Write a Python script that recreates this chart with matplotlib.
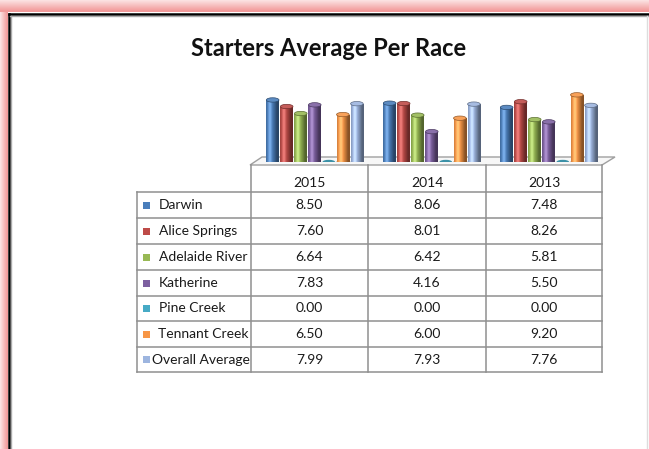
import numpy as np
import matplotlib
matplotlib.use("Agg")
import matplotlib.pyplot as plt
from matplotlib.patches import Ellipse, Polygon, Rectangle
from matplotlib.colors import to_rgb

years = ["2015", "2014", "2013"]
series = ["Darwin", "Alice Springs", "Adelaide River", "Katherine",
          "Pine Creek", "Tennant Creek", "Overall Average"]
darwin = [8.50, 8.06, 7.48]
alice_springs = [7.60, 8.01, 8.26]
adelaide_river = [6.64, 6.42, 5.81]
katherine = [7.83, 4.16, 5.50]
pine_creek = [0.00, 0.00, 0.00]
tennant_creek = [6.50, 6.00, 9.20]
overall_average = [7.99, 7.93, 7.76]
values = [darwin, alice_springs, adelaide_river, katherine,
          pine_creek, tennant_creek, overall_average]
colors = ["#4A7EBB", "#BE4B48", "#98B954", "#7D60A0",
          "#46AAC5", "#F79646", "#9DB5DF"]

FONT = ["Lato", "DejaVu Sans"]
W, H = 649, 449
fig = plt.figure(figsize=(W / 100, H / 100), dpi=100)
fig.patch.set_facecolor("white")

ov = fig.add_axes([0, 0, 1, 1], zorder=0)
ov.set_xlim(0, W)
ov.set_ylim(H, 0)
ov.axis("off")

# pink glow frame
for i in range(12):
    a = 0.25 + 0.06 * i
    ov.add_patch(Rectangle((0, i), W, 1.05, color="#f08a8a", alpha=min(a, 0.85), lw=0))
for i in range(8):
    a = 0.25 + 0.09 * i
    ov.add_patch(Rectangle((i, 12), 1.05, H, color="#f08a8a", alpha=min(a, 0.85), lw=0))
ov.plot([8.5, W], [13.5, 13.5], color="black", lw=1.8)
ov.plot([8.5, 8.5], [13.5, H], color="black", lw=1.8)
ov.plot([10, W], [15.5, 15.5], color="#aaaaaa", lw=1.0)
ov.plot([10.5, 10.5], [15.5, H], color="#aaaaaa", lw=1.0)
ov.plot([647, 647], [16, H], color="#dddddd", lw=1.0)

ov.text(329, 48, "Starters Average Per Race", ha="center", va="center",
        fontsize=17, fontweight="bold", family=FONT, color="#111111")

# floor
ov.add_patch(Polygon([(250, 165), (602, 165), (615, 157), (262, 157)],
                     closed=True, facecolor="#f7f7f7", edgecolor="#a0a0a0", lw=1.0))

line_c = "#8f8f8f"
row_y = [192, 218, 244, 270, 296, 321, 347, 372]
col_x = [137, 251, 368, 486, 602]
for y in row_y:
    ov.plot([137, 602], [y, y], color=line_c, lw=1.1)
ov.plot([137, 137], [192, 372], color=line_c, lw=1.1)
for x in col_x[1:]:
    ov.plot([x, x], [165, 372], color=line_c, lw=1.1)

FS = 10
for j, yr in enumerate(years):
    ov.text((col_x[j + 1] + col_x[j + 2]) / 2, 183, yr, ha="center", va="center",
            fontsize=FS, family=FONT, color="#1a1a1a")

labels = []
for i, name in enumerate(series):
    yc = (row_y[i] + row_y[i + 1]) / 2
    ov.add_patch(Rectangle((142.5, yc - 3.5), 7, 7, color=colors[i], lw=0))
    t = ov.text(159, yc, name, ha="left", va="center", fontsize=FS,
                family=FONT, color="#1a1a1a")
    labels.append(t)
    for j in range(3):
        ov.text((col_x[j + 1] + col_x[j + 2]) / 2, yc, f"{values[i][j]:.2f}",
                ha="center", va="center", fontsize=FS, family=FONT, color="#1a1a1a")

fig.canvas.draw()
r = fig.canvas.get_renderer()
for t in labels:
    bb = t.get_window_extent(r)
    if bb.x1 > 249:
        x, y = t.get_position()
        t.set_position((max(x - (bb.x1 - 249), 152), y))

# bars axes
base_px = 162
top_px = base_px - 73
ax = fig.add_axes([251 / W, (H - base_px) / H, (602 - 251) / W, (base_px - top_px) / H], zorder=2)
ax.set_xlim(0, 3)
ax.set_ylim(0, 10)
ax.axis("off")
ax.patch.set_alpha(0)

bw = 0.108
step = 0.12
off = 0.045
eh = 0.6
tt = np.linspace(0, 1, 40)
s = np.clip(np.cos((tt - 0.3) * np.pi * 0.9), 0, 1)

def shade(c):
    c = np.array(to_rgb(c))
    img = c[None, :] * (0.55 + 0.45 * s[:, None]) + 0.2 * (s[:, None] ** 12)
    return np.clip(img, 0, 1)[None, :, :]

for i in range(len(series)):
    base = np.array(to_rgb(colors[i]))
    for j in range(3):
        v = values[i][j]
        xc = j + 0.5 + off + (i - 3) * step
        x0 = xc - bw / 2
        if v > 0:
            rect = ax.bar(xc, v, width=bw, color=colors[i], lw=0, zorder=3)[0]
            im = ax.imshow(shade(colors[i]), extent=[x0, x0 + bw, 0, v],
                           aspect="auto", zorder=3.5, interpolation="bilinear")
            im.set_clip_path(rect)
            ax.add_patch(Ellipse((xc, 0), bw, eh, facecolor=base * 0.6, lw=0, zorder=3.2))
            ax.add_patch(Ellipse((xc, v), bw, eh, facecolor=np.clip(base * 0.9 + 0.1, 0, 1),
                                 edgecolor=base * 0.6, lw=0.5, zorder=4))
        else:
            ax.add_patch(Ellipse((xc, v), bw, eh, facecolor=base * 0.85, lw=0, zorder=4))
ax.set_xlim(0, 3)
ax.set_ylim(0, 10)

fig.savefig("out.png", dpi=100)
